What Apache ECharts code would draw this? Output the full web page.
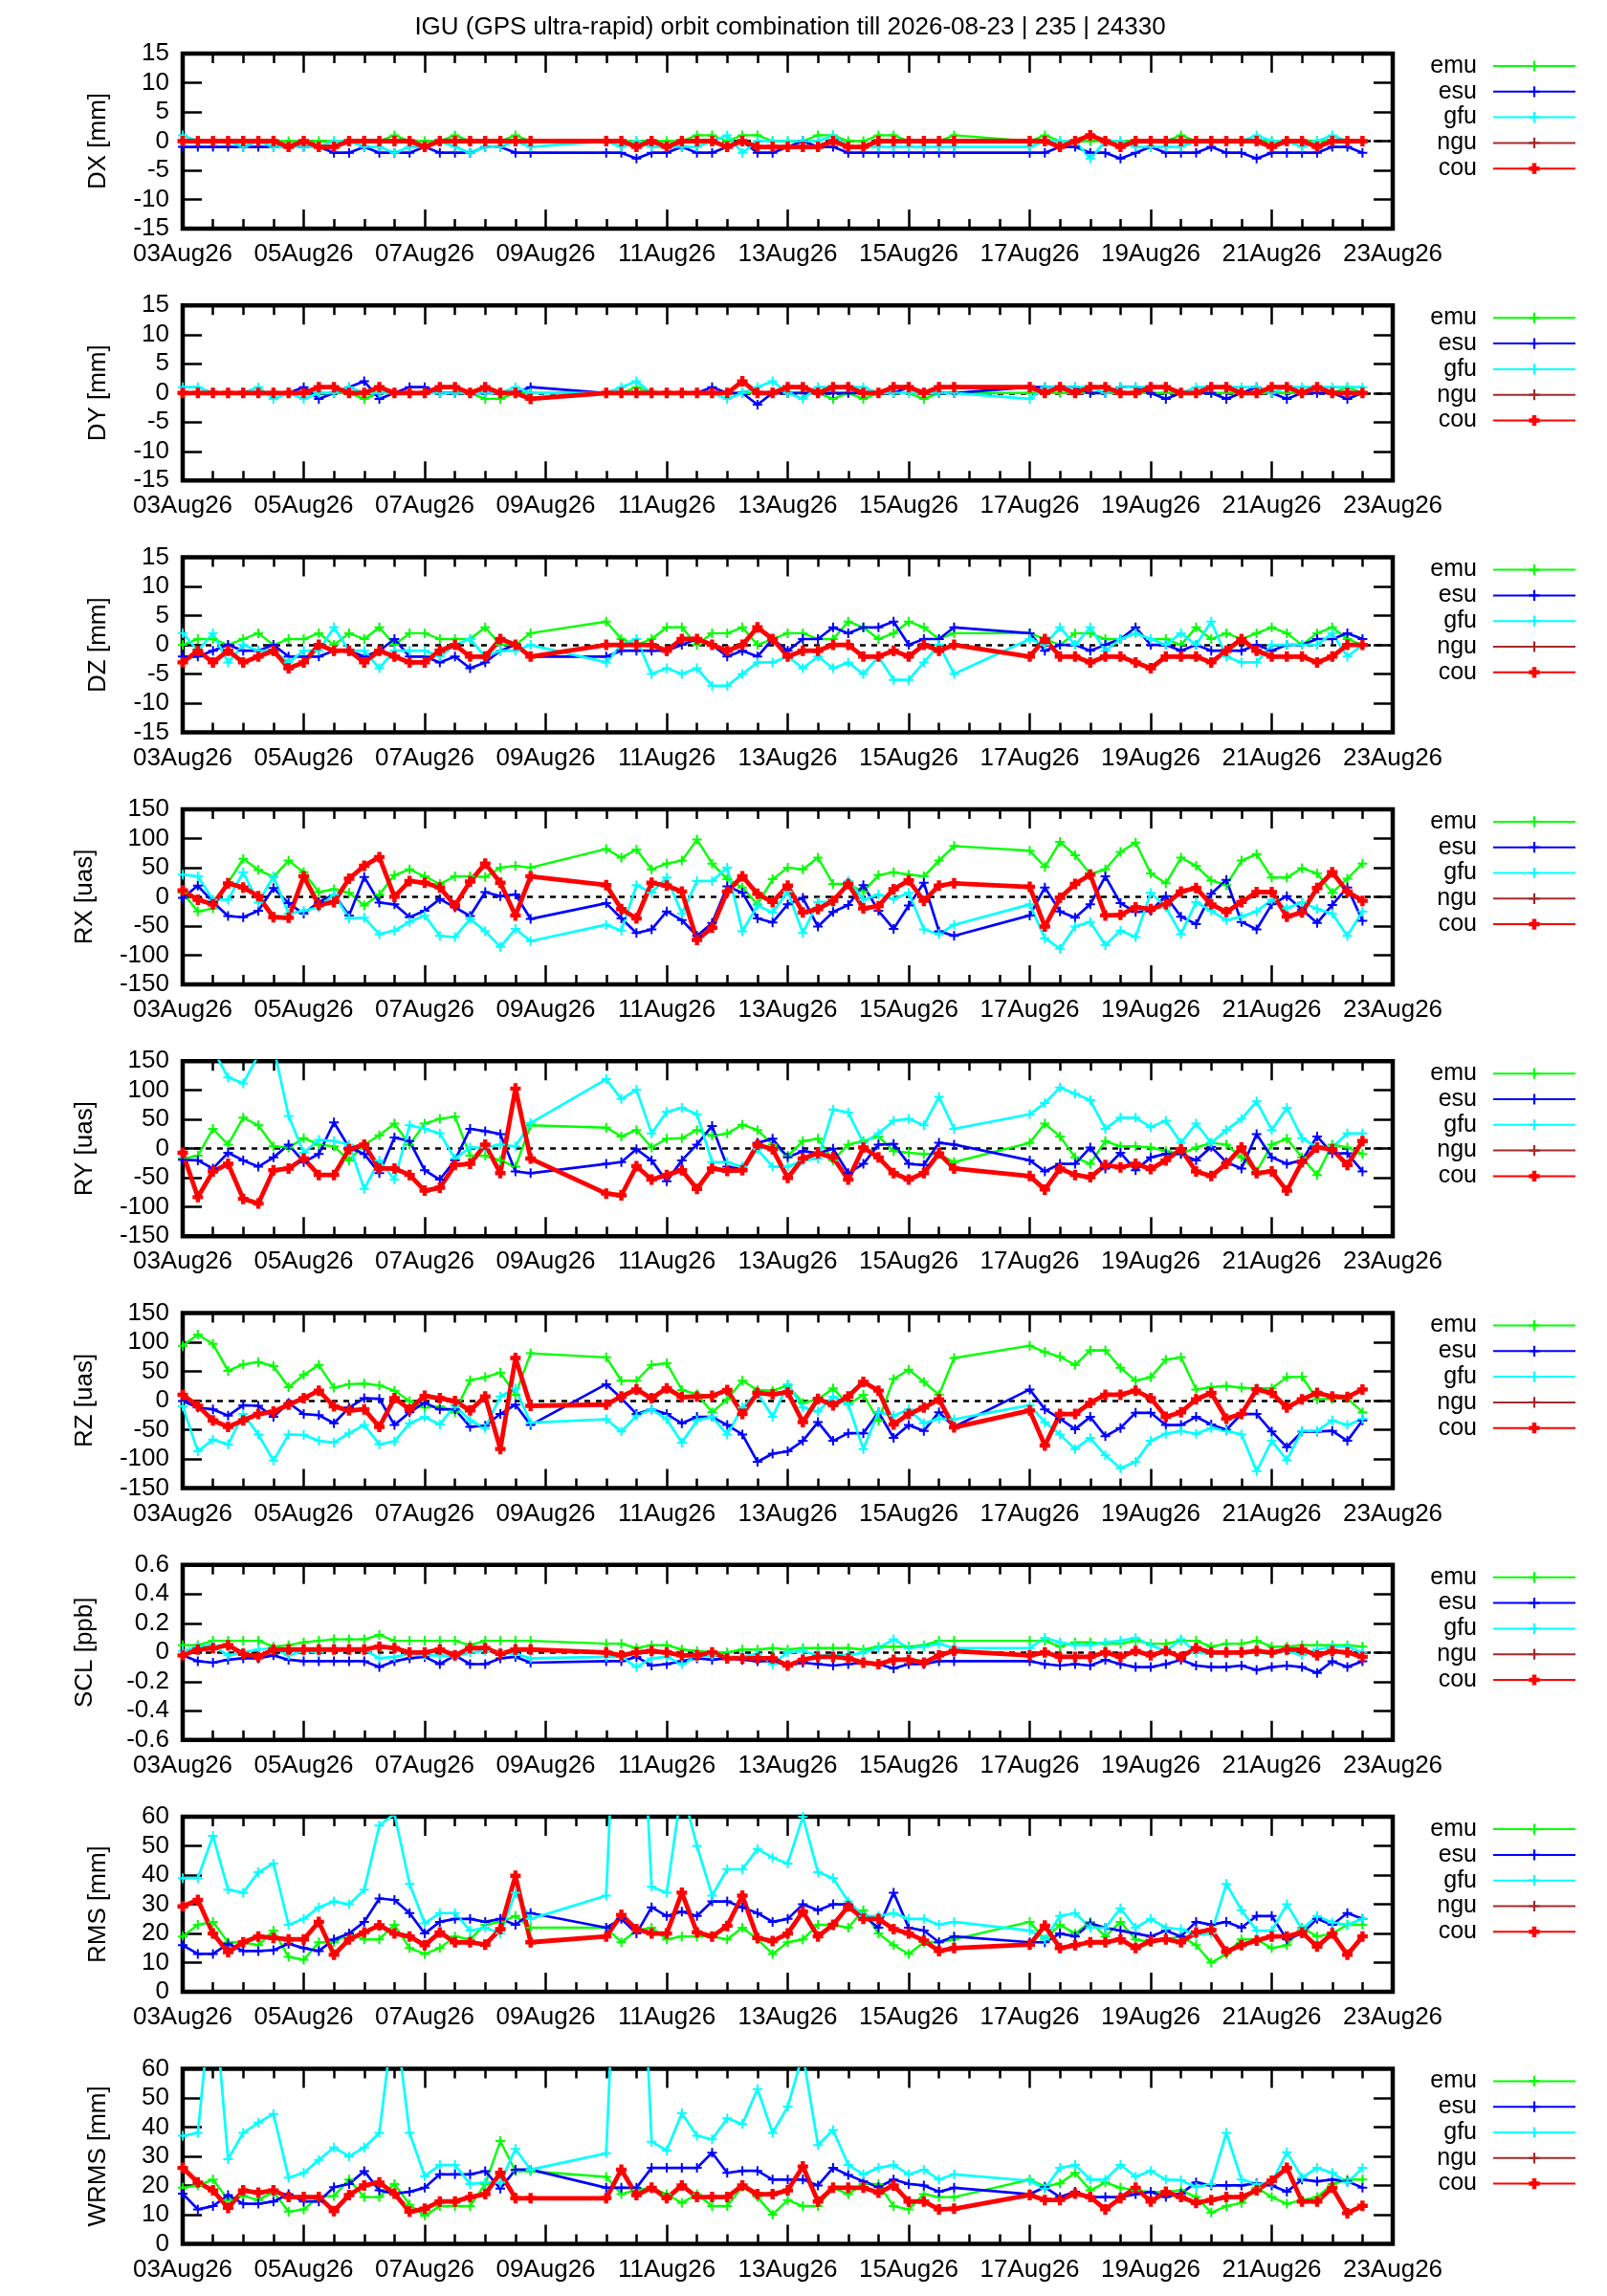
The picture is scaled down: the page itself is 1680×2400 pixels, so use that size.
<!DOCTYPE html>
<html><head><meta charset="utf-8">
<script src="https://cdn.jsdelivr.net/npm/echarts@6/dist/echarts.min.js"></script>
<style>html,body{margin:0;padding:0;background:#fff}#c{width:1680px;height:2400px}</style>
</head><body><div id="c"></div>
<script>
// epochs in days since 03Aug26 00:00
const times = [0,0.25,0.5,0.75,1,1.25,1.5,1.75,2,2.25,2.5,2.75,3,3.25,3.5,3.75,4,4.25,4.5,4.75,5,5.25,5.5,5.75,
 7,7.25,7.5,7.75,8,8.25,8.5,8.75,9,9.25,9.5,9.75,10,10.25,10.5,10.75,11,11.25,11.5,11.75,12,12.25,12.5,12.75,
 14,14.25,14.5,14.75,15,15.25,15.5,15.75,16,16.25,16.5,16.75,17,17.25,17.5,17.75,18,18.25,18.5,18.75,19,19.25,19.5];
const xTickLabels = ['03Aug26','05Aug26','07Aug26','09Aug26','11Aug26','13Aug26','15Aug26','17Aug26','19Aug26','21Aug26','23Aug26'];
const seriesNames = ['emu','esu','gfu','ngu','cou'];
const titleText = 'IGU (GPS ultra-rapid) orbit combination till 2026-08-23 | 235 | 24330';

const dxEmu = [0,0,0,0,0,0,0,0,0,0,0,0,0,0,1,0,0,0,1,0,0,0,1,0,
 0,0,0,0,0,0,1,1,0,1,1,0,0,0,1,1,0,0,1,1,0,0,0,1,
 0,1,0,0,0,0,0,0,0,0,1,0,0,0,0,0,0,0,0,0,0,0,0];
const dxEsu = [-1,-1,-1,-1,-1,-1,-1,-1,-1,-1,-2,-2,-1,-2,-2,-2,-1,-2,-2,-2,-1,-1,-2,-2,
 -2,-2,-3,-2,-2,-1,-2,-2,-1,0,-2,-2,-1,0,-1,-1,-2,-2,-2,-2,-2,-2,-2,-2,
 -2,-2,-1,-1,-2,-2,-3,-2,-1,-2,-2,-2,-1,-2,-2,-3,-2,-2,-2,-2,-1,-1,-2];
const dxGfu = [1,0,0,0,-1,0,-1,-1,-1,-1,0,0,-1,-1,-2,-1,-1,0,-1,-2,-1,-1,0,-1,
 0,-1,0,-1,-1,-1,-1,0,1,-2,0,0,0,0,0,1,-1,-1,-1,-1,-1,-1,-1,-1,
 -1,0,0,0,-3,0,0,-1,-1,-1,-1,0,0,0,0,1,0,0,-1,0,1,0,0];
const dxCou = [0,0,0,0,0,0,0,-1,0,-1,-1,0,0,0,0,0,-1,0,0,0,0,0,0,0,
 0,0,-1,0,-1,0,0,0,-1,0,-1,-1,-1,-1,-1,0,-1,-1,0,0,0,0,0,0,
 0,0,-1,0,1,0,-1,0,0,0,0,0,0,0,0,0,-1,0,0,-1,0,0,0];

const dyEmu = [0,0,0,0,0,0,0,0,0,0,0,0,-1,0,0,0,0,0,0,0,-1,-1,0,0,
 0,0,1,0,0,0,0,0,0,0,0,0,0,0,0,-1,0,-1,0,0,0,-1,0,0,
 0,0,0,0,0,0,0,0,0,0,0,0,0,0,0,0,0,0,0,0,0,1,0];
const dyEsu = [0,0,0,0,0,0,0,0,1,-1,0,1,2,-1,0,1,1,0,0,0,0,0,0,1,
 0,0,0,0,0,0,0,1,0,0,-2,0,0,0,0,0,0,0,0,0,1,0,0,0,
 1,1,1,1,0,0,1,1,0,-1,0,0,0,-1,0,1,0,-1,0,0,0,-1,0];
const dyGfu = [1,1,0,0,0,1,-1,0,-1,0,0,1,0,0,0,0,0,0,0,0,0,0,1,0,
 0,1,2,0,0,0,0,0,-1,0,1,2,0,-1,1,1,1,1,0,0,0,0,0,0,
 -1,1,1,1,1,0,1,1,1,1,0,1,1,1,1,1,0,1,1,1,1,1,1];
const dyCou = [0,0,0,0,0,0,0,0,0,1,1,0,0,1,0,0,0,1,1,0,1,0,0,-1,
 0,0,0,0,0,0,0,0,0,2,0,0,1,1,0,1,1,0,0,1,1,0,1,1,
 1,0,1,0,1,1,0,0,1,1,0,0,1,1,0,0,1,1,0,1,0,0,0];

const dzEmu = [0,1,1,0,1,2,0,1,1,2,0,2,1,3,0,2,2,1,1,1,3,0,0,2,
 4,1,0,1,3,3,0,2,2,3,0,1,2,2,1,1,4,3,1,2,4,3,1,2,
 2,1,0,2,2,1,1,2,1,1,0,3,1,2,1,2,3,2,0,2,3,1,0];
const dzEsu = [-2,-2,-1,0,-1,-1,0,-2,-2,-2,-1,-1,-2,-1,1,-2,-2,-3,-2,-4,-3,-1,0,-2,
 -2,-1,-1,-1,-1,0,1,0,-2,-1,-2,1,-1,1,1,3,2,3,3,4,0,1,1,3,
 2,-1,0,0,-1,0,1,3,0,0,-1,0,-1,-1,-1,0,-1,0,0,1,1,2,1];
const dzGfu = [2,-1,2,-3,0,-1,-1,-3,-1,-1,3,-1,-1,-4,-1,-1,-1,-2,0,1,-2,-1,-1,0,
 -3,0,1,-5,-4,-5,-4,-7,-7,-5,-3,-3,-2,-4,-2,-4,-3,-5,-2,-6,-6,-3,0,-5,
 1,0,3,0,3,-1,1,2,1,0,2,0,4,-2,-3,-3,0,0,0,0,2,-2,0];
const dzCou = [-3,-1,-3,-1,-3,-2,-1,-4,-3,0,-1,-1,-3,-1,-2,-3,-3,-1,0,-2,-2,1,0,-2,
 0,0,0,0,-1,1,1,0,-1,0,3,1,-2,-1,-1,0,0,-2,-2,-1,-2,0,-1,0,
 -2,1,-2,-2,-3,-2,-2,-3,-4,-2,-2,-2,-3,-1,1,-1,-2,-2,-2,-3,-2,0,0];

const rxEmu = [7,-25,-20,24,65,46,34,62,42,8,13,7,-15,4,37,47,35,22,35,35,34,50,53,50,
 82,67,81,47,57,62,98,57,30,16,-13,30,50,47,67,22,22,9,37,42,38,35,62,87,
 79,51,94,71,39,47,77,93,40,23,67,53,28,20,62,73,33,33,49,40,7,31,57];
const rxEsu = [-2,19,-9,-33,-35,-24,15,-11,-29,-9,4,-32,34,-10,-13,-35,-24,-4,-18,-33,8,1,4,-38,
 -11,-37,-62,-56,-25,-40,-67,-45,18,7,-37,-44,-13,-2,-51,-26,-14,20,-24,-55,-15,24,-59,-67,
 -32,16,-25,-36,-13,35,-11,-26,-24,1,-34,-47,5,29,-43,-56,-13,1,-22,-45,-14,16,-41];
const rxGfu = [38,35,-5,-5,42,-10,35,-29,-24,-18,4,-37,-36,-64,-58,-43,-32,-67,-69,-38,-59,-86,-55,-76,
 -48,-58,20,7,33,-29,27,27,50,-59,-15,-27,9,-62,-9,-9,27,-5,4,-4,7,-56,-64,-48,
 -13,-71,-89,-51,-43,-83,-58,-69,7,-18,-64,-9,-24,-40,-34,-25,-5,-20,-9,-21,-29,-67,-25];
const rxCou = [11,-5,-13,23,16,1,-35,-36,35,-14,-9,31,53,68,0,27,24,16,-15,26,57,24,-32,35,
 20,-21,-37,24,19,9,-74,-53,9,35,5,-9,19,-27,-21,-7,22,-20,-16,13,28,-7,19,23,
 17,-51,-2,22,38,-32,-31,-18,-21,-13,9,15,-13,-26,-9,8,8,-34,-27,15,42,9,-7];

const ryEmu = [-17,-12,34,7,53,40,4,2,18,7,4,-20,7,23,43,7,43,51,55,-12,-12,-20,-31,40,
 36,21,32,2,17,18,32,22,26,41,32,7,-12,13,17,-20,7,13,21,-4,-7,-9,-9,-23,
 10,43,21,-15,-26,13,4,4,2,-4,-9,2,10,7,-15,-39,7,17,-15,-45,7,2,-9];
const ryEsu = [-19,-20,-34,-7,-20,-31,-15,7,-23,-9,45,2,-9,-42,19,13,-37,-53,-20,34,30,25,-39,-42,
 -26,-23,-1,-20,-56,-20,7,39,-31,-35,10,17,-15,-4,-8,0,-42,-26,7,8,-26,-28,10,7,
 -20,-39,-26,-26,2,-34,-7,-37,-15,-9,-9,-20,3,-23,-34,25,-15,-26,-20,21,-8,-8,-39];
const ryGfu = [180,190,170,122,112,160,175,56,-7,15,13,7,-69,-20,-53,40,34,26,-17,2,2,7,4,44,
 119,85,101,26,63,70,59,-23,-23,-31,-1,-31,-31,-20,-17,67,62,10,26,48,51,40,89,34,
 59,78,105,94,83,34,53,53,37,48,10,43,10,32,51,81,32,70,18,2,2,26,26];
const ryCou = [-7,-83,-39,-26,-86,-94,-37,-34,-17,-45,-45,-1,7,-34,-34,-45,-72,-67,-28,-26,7,-42,103,-17,
 -77,-80,-30,-53,-45,-37,-69,-34,-38,-37,7,-1,-50,-17,-8,-15,-53,2,-15,-42,-53,-42,-8,-34,
 -47,-70,-34,-45,-49,-28,-32,-26,-35,-20,-1,-39,-47,-26,2,-42,-39,-72,-23,2,-1,-28,13];

const rzEmu = [94,113,97,51,62,66,59,23,44,61,22,28,29,26,17,-1,-12,-10,-20,35,40,48,10,81,
 74,34,34,61,64,18,11,-20,2,34,18,17,26,-4,2,21,-7,10,-34,37,53,32,10,73,
 94,83,75,61,86,86,56,34,40,70,74,19,23,25,22,21,21,40,41,2,3,4,-20];
const rzEsu = [-1,-12,-15,-26,-8,-9,-28,-4,-23,-25,-39,-12,4,3,-42,-20,-4,-15,-15,-45,-43,-23,-7,-42,
 28,4,-23,-15,-23,-39,-28,-28,-42,-58,-105,-91,-87,-69,-37,-69,-56,-56,-20,-64,-42,-52,-20,-45,
 19,-15,-31,-49,-28,-61,-47,-21,-21,-42,-42,-28,-41,-50,-23,-23,-53,-80,-53,-53,-52,-69,-34];
const rzGfu = [-10,-87,-67,-75,-23,-58,-103,-58,-59,-69,-72,-56,-42,-75,-70,-39,-28,-41,-8,-34,-47,7,21,-38,
 -32,-53,-26,-15,-32,-72,-34,-28,-58,-12,13,-28,28,-12,-19,7,-7,-83,-20,-26,-15,-39,-31,-32,
 -8,-37,-58,-83,-64,-94,-116,-105,-69,-57,-52,-57,-47,-52,-58,-121,-69,-102,-52,-52,-34,-42,-31];
const rzCou = [10,-9,-34,-45,-34,-23,-19,-7,4,17,-10,-17,-15,-45,4,-15,8,4,-1,-17,7,-83,73,-9,
 -7,7,19,4,21,6,7,8,18,-23,13,11,14,-37,3,-8,7,32,17,-41,-23,-12,2,-46,
 -17,-77,-23,-23,-4,10,10,17,4,-28,-20,2,13,-31,-23,19,13,-12,2,13,7,6,19];

const sclEmu = [0.05,0.05,0.08,0.08,0.08,0.08,0.04,0.05,0.07,0.08,0.09,0.09,0.09,0.12,0.08,0.08,0.08,0.08,0.08,0.05,0.08,0.08,0.08,0.08,
 0.06,0.06,0.03,0.05,0.05,0.02,0.01,0,0,0.02,0.02,0.03,0.02,0.03,0.03,0.03,0.03,0.02,0.04,0.04,0.04,0.05,0.08,0.08,
 0.08,0.08,0.04,0.07,0.07,0.06,0.06,0.08,0.06,0.06,0.08,0.08,0.04,0.06,0.06,0.08,0.04,0.04,0.05,0.05,0.05,0.05,0.04];
const sclEsu = [-0.02,-0.06,-0.07,-0.05,-0.04,-0.04,-0.02,-0.05,-0.06,-0.06,-0.06,-0.06,-0.06,-0.1,-0.06,-0.04,-0.03,-0.08,-0.02,-0.08,-0.08,-0.04,-0.03,-0.07,
 -0.06,-0.06,-0.03,-0.09,-0.08,-0.06,-0.04,-0.05,-0.04,-0.05,-0.06,-0.06,-0.09,-0.07,-0.08,-0.09,-0.08,-0.07,-0.08,-0.11,-0.08,-0.08,-0.06,-0.06,
 -0.06,-0.08,-0.09,-0.08,-0.09,-0.05,-0.08,-0.1,-0.1,-0.08,-0.05,-0.09,-0.1,-0.1,-0.09,-0.12,-0.1,-0.09,-0.1,-0.14,-0.06,-0.1,-0.06];
const sclGfu = [0.01,0.04,0.05,-0.02,0,0.02,0.03,-0.02,0.01,0,0.03,0.02,0.02,-0.04,-0.03,-0.01,-0.02,-0.02,-0.03,0,0.01,0,-0.01,-0.04,
 -0.03,-0.03,-0.1,-0.04,-0.03,-0.08,-0.03,-0.02,-0.03,-0.03,-0.01,-0.08,0,0.01,-0.02,-0.02,-0.02,0,0.03,0.09,0.03,0.04,0.06,0.03,
 0.03,0.1,0.07,0.05,0.05,0.07,0.08,0.1,0.05,0.01,0.09,0,-0.01,0,0,0,-0.01,0.01,-0.02,0.02,0.04,0.04,0];
const sclCou = [-0.02,0.02,0.03,0.05,-0.01,-0.03,0.02,0.02,0.02,0.02,0.02,0.02,0.02,0.04,0.03,0,0,0.02,-0.02,0.03,0.03,-0.01,0.02,0.02,
 0,-0.02,0,0.01,0,-0.02,-0.02,0,-0.04,-0.04,-0.04,-0.04,-0.09,-0.05,-0.03,-0.03,-0.04,-0.07,-0.08,-0.05,-0.05,-0.07,-0.02,0.01,
 -0.02,0,-0.03,-0.03,-0.03,0,-0.03,0.01,-0.02,0.01,-0.03,0.03,0,0,0,0.01,0,0.02,0.02,-0.02,0.01,0,-0.03];

const rmsEmu = [19,23,24,17,17,16,21,12,11,17,17,20,18,18,23,15,13,15,19,18,23,24,26,22,
 22,17,21,22,18,19,19,19,18,22,18,13,17,18,23,23,22,28,20,16,13,17,17,18,
 24,18,23,20,24,19,24,18,17,18,19,16,10,13,18,18,15,16,22,19,20,23,23];
const rmsEsu = [16,13,13,16.5,14,14,14.3,16.5,15,14,18,20,24,32,31.5,27,20,24,25,25,24,25,23,27,
 22,25,20,29,26,27.5,26,31,31,29,27,24,25,30,28,30,30,26,22,34,22,21,17,19,
 17,17,20,19,23.5,22,21,20,19,21,19,24,23,24,22,26,26,18,20,25,23,27,25];
const rmsGfu = [39,39,53.5,35,34,41,44,23,25,29,31,30,35,57,61,37,23.5,27,27,21,22,20,34,25,
 33,150,140,36,34,70,50,33,42,42,49,46,44,60,41,39,31,26,26,27,25,25,23,24,
 21,18,26,27,22,22,28.6,22,25,22,21.5,19.6,20,37,28,21,21,30,21.5,26,23.7,23,25];
const rmsCou = [29.3,31.5,20,13.6,17,19,18.5,18,18,24,12.7,18,20.4,22.8,20,19,16,20.4,17,17,16.2,21.5,39.8,17,
 19,26.4,21.5,20,20,34,20.4,19,22.6,33,18.5,17.4,20,27.5,19,23,29.3,25,25,21.5,20,17.6,14,15,
 16.2,22.7,15,16,17,17,18,15,17.4,18,17,20.4,21.3,13.8,16,17.6,19,19,20.4,15.5,20,12.7,19];

const wrmsEmu = [19.2,20,22,15,16.4,15,17.8,11,11.8,16,16.4,22,16,16,20.5,13.4,9.6,12.9,12.9,12.9,20.5,35.2,24.9,24.9,
 22.9,17,18.5,19.2,17,14,17,12.9,12.9,19.6,16,10,15,12.9,12.9,19.2,17,20.5,20.5,12.9,11.8,17,16,16,
 22,19.6,20.7,24.3,18.3,21,19.2,18.3,17.8,17.8,18.3,16,10.7,12.9,14,19.2,16,13.7,15,16,20.5,22,22];
const wrmsEsu = [17.2,11.8,12.9,16.7,13.7,13.7,14.5,17,14.5,14.5,19.4,20.5,24.9,18.3,17.2,17.8,19.2,23.8,23.8,23.8,24.9,18.9,25.4,25.4,
 19.2,19.2,19.2,26,26,26,26,31.2,24.3,25,25,22,22,22,20,26,23.6,21.4,19.4,22,20.5,20,17.8,19.2,
 17,19.4,16,17.8,16,16,16,17,17.8,16,17.2,21,20,20,20,20.7,20,17.8,22,21.4,22,21.4,19.2];
const wrmsGfu = [37,38,90,29,38,41.5,44.5,22.7,24.3,28.7,33,30,33,38,80,38,23.2,27,27,20.5,21,21,32.5,25.4,
 31,150,150,35,32,44.7,37,35.8,43,41,53,38,47,65,33.8,39,27,23.8,26,27,23.8,25.4,22,23.8,
 21.6,18.9,26,27,22,22,27,23,25,22,21.8,19.4,20.5,38,22,20.5,21,31.4,22.7,26,24.3,21,26];
const wrmsCou = [26,21,18.3,12.3,18.3,17.5,18.3,16,16,16,11.2,16.7,20,21,17.2,11,12,14.5,14.5,16,17,24.3,15.6,15.6,
 15.6,25.4,16.7,19.2,15.6,20,16,16,16,20,17,17,18.3,26.5,14.5,19.2,19.2,19.2,17.5,20,14.5,14.5,11.8,12,
 16.7,15,15,17.2,16,11.8,15.6,19.2,14.5,17.8,16,14,15,16,16,18.3,21.6,26,14.5,14.5,19.2,10.5,13];

const panels = [
  {name:'DX [mm]', min:-15, max:15, interval:5, gap:75, zero:true, d:[dxEmu,dxEsu,dxGfu,[],dxCou]},
  {name:'DY [mm]', min:-15, max:15, interval:5, gap:75, zero:true, d:[dyEmu,dyEsu,dyGfu,[],dyCou]},
  {name:'DZ [mm]', min:-15, max:15, interval:5, gap:75, zero:true, d:[dzEmu,dzEsu,dzGfu,[],dzCou]},
  {name:'RX [uas]', min:-150, max:150, interval:50, gap:89, zero:true, d:[rxEmu,rxEsu,rxGfu,[],rxCou]},
  {name:'RY [uas]', min:-150, max:150, interval:50, gap:89, zero:true, d:[ryEmu,ryEsu,ryGfu,[],ryCou]},
  {name:'RZ [uas]', min:-150, max:150, interval:50, gap:89, zero:true, d:[rzEmu,rzEsu,rzGfu,[],rzCou]},
  {name:'SCL [ppb]', min:-0.6, max:0.6, interval:0.2, gap:89, zero:true, d:[sclEmu,sclEsu,sclGfu,[],sclCou], fmt:v=>String(Math.round(v*10)/10)},
  {name:'RMS [mm]', min:0, max:60, interval:10, gap:75, zero:false, d:[rmsEmu,rmsEsu,rmsGfu,[],rmsCou]},
  {name:'WRMS [mm]', min:0, max:60, interval:10, gap:75, zero:false, d:[wrmsEmu,wrmsEsu,wrmsGfu,[],wrmsCou]}
];

const FONT = '"Liberation Sans", Arial, Helvetica, sans-serif';
const colors = ['#00ff00','#0000ff','#00ffff','#a52a2a','#ff0000'];
const widths = [2.4,2.7,2.7,2,4.8];
const plus = 'path://M4,0H6V4H10V6H6V10H4V6H0V4H4Z';
const plusThick = 'path://M3,0H7V3H10V7H7V10H3V7H0V3H3Z';
const symbols = [plus, plus, plus, plus, plusThick];
const symSizes = [10,10,10,10,11];

const GL = 191, GW = 1265, GT0 = 56, GS = 263.3, GH = 183;
const grids = [], xAxes = [], yAxes = [], series = [], legends = [];
const tickStyle = {color:'#000', width:2.5};

panels.forEach((p, i) => {
  const top = GT0 + GS * i;
  grids.push({left:GL, width:GW, top:top, height:GH, show:true, borderColor:'#000', borderWidth:4.5, backgroundColor:'transparent'});
  const xBase = {type:'value', gridIndex:i, min:0, max:20, interval:2,
    axisLine:{show:false, onZero:false}, splitLine:{show:false}, minorSplitLine:{show:false},
    axisTick:{show:true, inside:true, length:20, lineStyle:tickStyle},
    minorTick:{show:true, splitNumber:4, length:10, lineStyle:tickStyle}};
  xAxes.push(Object.assign({}, xBase, {position:'bottom',
    axisLabel:{show:true, margin:14, color:'#000', fontSize:26, fontFamily:FONT,
      formatter:v => xTickLabels[Math.round(v/2)]}}));
  xAxes.push(Object.assign({}, xBase, {position:'top', axisLabel:{show:false}}));
  const yBase = {type:'value', gridIndex:i, min:p.min, max:p.max, interval:p.interval,
    axisLine:{show:false, onZero:false}, splitLine:{show:false},
    axisTick:{show:true, inside:true, length:20, lineStyle:tickStyle}};
  yAxes.push(Object.assign({}, yBase, {position:'left',
    name:p.name, nameLocation:'middle', nameGap:p.gap,
    nameTextStyle:{color:'#000', fontSize:26, fontFamily:FONT},
    axisLabel:{show:true, margin:14, color:'#000', fontSize:26, fontFamily:FONT,
      formatter: p.fmt || (v => String(v))}}));
  yAxes.push(Object.assign({}, yBase, {position:'right', axisLabel:{show:false}}));
  seriesNames.forEach((nm, s) => {
    const vals = p.d[s];
    const ser = {
      name:nm, type:'line', xAxisIndex:2*i, yAxisIndex:2*i,
      data: vals.map((v,k) => [times[k], v]),
      symbol:symbols[s], symbolSize:symSizes[s], showSymbol:true,
      lineStyle:{color:colors[s], width:widths[s]},
      itemStyle:{color:colors[s]},
      clip:true, z:3, animation:false, silent:true
    };
    if (s === 0 && p.zero) {
      ser.markLine = {silent:true, symbol:'none', z:1, animation:false,
        label:{show:false}, lineStyle:{color:'#000', type:[6,6], width:2.5},
        data:[{yAxis:0}]};
    }
    series.push(ser);
  });
  legends.push({orient:'vertical', align:'right', right:32, top:top + 0.5, padding:0,
    itemWidth:86, itemHeight:14, itemGap:1.8, selectedMode:false,
    textStyle:{color:'#000', fontSize:25, fontFamily:FONT, padding:[0,12,0,0]},
    data:seriesNames});
});

const chart = echarts.init(document.getElementById('c'), null, {renderer:'canvas'});
chart.setOption({
  animation:false,
  backgroundColor:'#fff',
  graphic:[{type:'text', x:826, y:29, style:{text:titleText, fill:'#000', font:'26px ' + FONT, textAlign:'center', textVerticalAlign:'middle'}}],
  grid:grids, xAxis:xAxes, yAxis:yAxes, series:series, legend:legends
});
</script>
</body></html>
